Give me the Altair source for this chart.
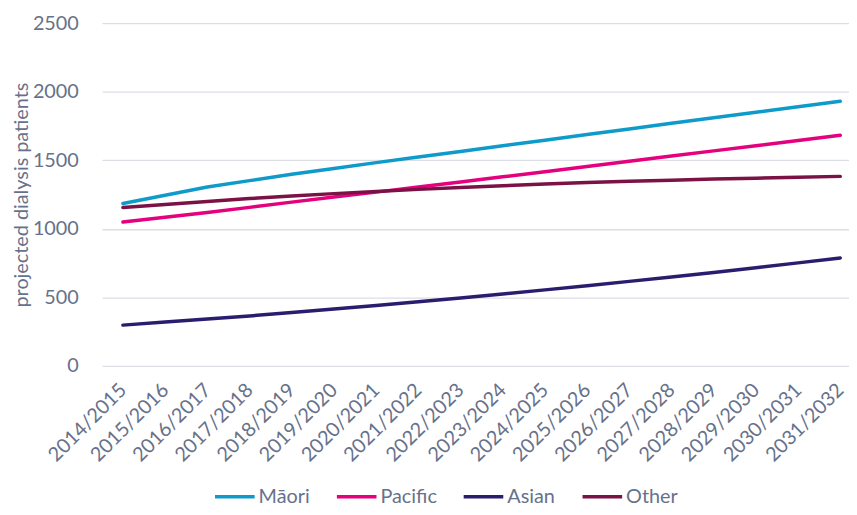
import altair as alt
import pandas as pd

years = ["2014/2015", "2015/2016", "2016/2017", "2017/2018", "2018/2019", "2019/2020",
         "2020/2021", "2021/2022", "2022/2023", "2023/2024", "2024/2025", "2025/2026",
         "2026/2027", "2027/2028", "2028/2029", "2029/2030", "2030/2031", "2031/2032"]

maori = [1185, 1245, 1305, 1352, 1398, 1441, 1483, 1524, 1565, 1606, 1647, 1688,
         1729, 1770, 1811, 1851, 1891, 1931]
pacific = [1050, 1085, 1120, 1157, 1195, 1232, 1268, 1305, 1342, 1380, 1417, 1455,
           1493, 1531, 1569, 1607, 1645, 1683]
asian = [298, 320, 342, 365, 390, 415, 441, 468, 496, 525, 555, 585,
         617, 649, 682, 717, 752, 788]
other = [1156, 1178, 1200, 1221, 1240, 1257, 1273, 1288, 1302, 1315, 1327, 1338,
         1347, 1355, 1363, 1370, 1377, 1383]

series_names = ["Māori", "Pacific", "Asian", "Other"]
series_colors = ["#0E9BC9", "#E5007D", "#2B1D6E", "#7B1245"]

rows = []
for name, vals in zip(series_names, [maori, pacific, asian, other]):
    for i, (yr, v) in enumerate(zip(years, vals)):
        rows.append({"idx": i, "year": yr, "value": v, "group": name})
df = pd.DataFrame(rows)

text_color = "#67718A"
font = "Lato"
fs = 20
years_js = "[" + ",".join("'" + y + "'" for y in years) + "]"

chart = alt.Chart(df).mark_line(strokeWidth=3.5, strokeCap="round").encode(
    x=alt.X("idx:Q", title=None,
            scale=alt.Scale(domain=[-0.493, 17.207], nice=False, zero=False),
            axis=alt.Axis(values=list(range(len(years))),
                          labelExpr=years_js + "[datum.value]",
                          labelAngle=-45, labelAlign="right", labelBaseline="middle",
                          labelFontSize=fs, labelColor=text_color,
                          labelFont=font, ticks=False, domain=False, grid=False,
                          labelPadding=21, labelFlush=False,
                          labelOverlap=False, labelBound=False)),
    y=alt.Y("value:Q", title="projected dialysis patients",
            scale=alt.Scale(domain=[0, 2500], nice=False),
            axis=alt.Axis(values=[0, 500, 1000, 1500, 2000, 2500], format="d",
                          labelFontSize=fs, labelColor=text_color, labelFont=font,
                          ticks=False, domain=False, gridColor="#DCDEE5", gridWidth=1.3,
                          labelPadding=24, titleFontSize=fs, titleColor=text_color,
                          titleFont=font, titleFontWeight="normal",
                          titleX=-81, titleY=173, titleAngle=-90,
                          titleAlign="center", titleBaseline="middle")),
    color=alt.Color("group:N", sort=series_names,
                    scale=alt.Scale(domain=series_names, range=series_colors),
                    legend=alt.Legend(title=None, orient="none", direction="horizontal",
                                      legendX=112, legendY=456, symbolType="stroke",
                                      symbolSize=1600, symbolStrokeWidth=3.5,
                                      labelFontSize=fs, labelColor=text_color,
                                      labelFont=font, columnPadding=20, labelOffset=2)),
).properties(
    width=754, height=346,
    autosize=alt.AutoSizeParams(type="none"),
    padding={"left": 95, "top": 13, "right": 0, "bottom": 140},
).configure_view(stroke=None)

chart.save("out.html", embed_options={"renderer": "svg", "actions": False})
